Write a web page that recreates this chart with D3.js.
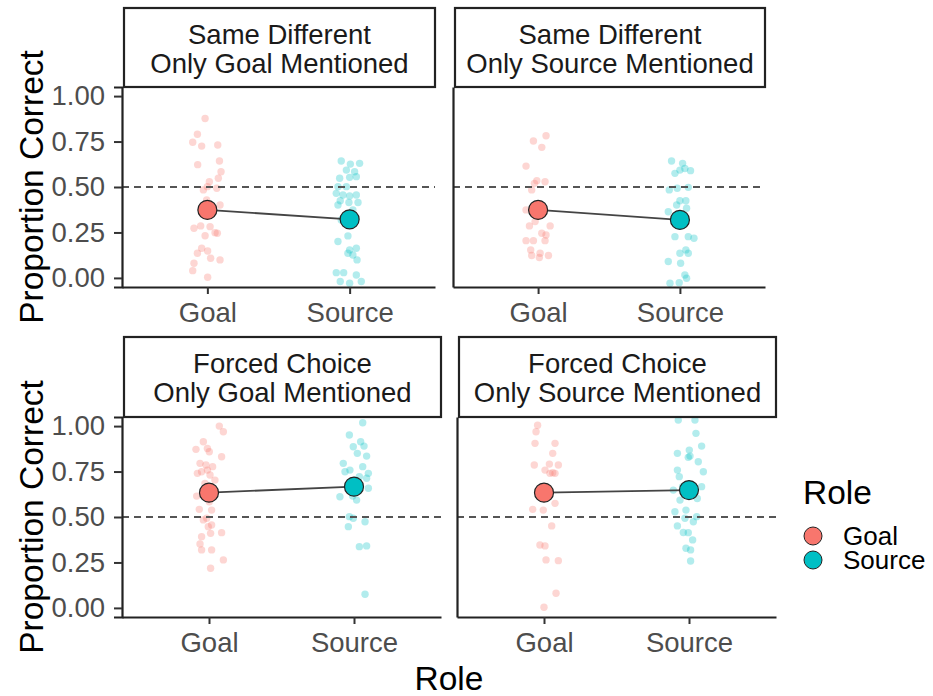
<!DOCTYPE html>
<html>
<head>
<meta charset="utf-8">
<script src="https://cdn.jsdelivr.net/npm/d3@7"></script>
<style>
  html, body { margin: 0; padding: 0; background: #fff; }
  svg { display: block; font-family: "Liberation Sans", Arial, sans-serif; }
</style>
</head>
<body>
<script>
// Roles on the x axis and their fill colours
const roles = ["Goal", "Source"];
const roleColors = ["#F8766D", "#00BFC4"];
const yTicks = [0, 0.25, 0.5, 0.75, 1];
const chanceLevel = 0.5;

// Facet strip titles (task, condition)
const stripTitles = [
  ["Same Different", "Only Goal Mentioned"],
  ["Same Different", "Only Source Mentioned"],
  ["Forced Choice", "Only Goal Mentioned"],
  ["Forced Choice", "Only Source Mentioned"]
];

// Mean proportion correct per panel: [Goal, Source]
const sdGoalMentionedMeans = [0.374, 0.322];
const sdSourceMentionedMeans = [0.374, 0.319];
const fcGoalMentionedMeans = [0.634, 0.667];
const fcSourceMentionedMeans = [0.634, 0.648];

// Per-participant scores: [horizontal jitter (category units), proportion correct]
const sdGoalMentionedGoal = [
  [-0.016,0.877],[-0.07,0.79],[-0.103,0.746],[-0.04,0.725],[0.073,0.731],[-0.068,0.623],
  [0.085,0.643],[0.096,0.584],[0.077,0.548],[0.014,0.529],[0,0.502],[-0.028,0.484],
  [0.066,0.493],[-0.005,0.429],[0.089,0.401],[0.007,0.374],[-0.094,0.273],[-0.047,0.286],
  [0.019,0.282],[-0.016,0.232],[0.054,0.249],[0.07,0.246],[-0.04,0.163],[-0.07,0.136],
  [0.002,0.148],[0.023,0.108],[0.089,0.099],[-0.094,0.081],[-0.103,0.04],[0.002,0.004]
];
const sdGoalMentionedSource = [
  [-0.059,0.643],[0.005,0.626],[0.07,0.63],[-0.023,0.593],[0.035,0.584],[-0.07,0.548],
  [0,0.553],[0.047,0.557],[-0.082,0.502],[-0.023,0.502],[-0.094,0.465],[-0.047,0.456],
  [0,0.451],[0.047,0.456],[-0.066,0.424],[-0.005,0.415],[0.059,0.415],[0.023,0.374],
  [-0.082,0.401],[-0.059,0.319],[-0.012,0.231],[-0.082,0.2],[0,0.154],[0.047,0.163],
  [0.023,0.126],[0.052,0.099],[-0.012,0.136],[-0.094,0.029],[-0.042,0.029],[0.047,0.016],
  [-0.066,-0.02],[0.082,-0.02],[0,-0.029]
];
const sdSourceMentionedGoal = [
  [0.056,0.782],[-0.033,0.753],[0.026,0.718],[-0.085,0.615],[-0.009,0.535],[0.049,0.529],
  [-0.026,0.52],[-0.045,0.484],[-0.085,0.374],[-0.061,0.286],[0.085,0.286],[0.026,0.246],
  [0.056,0.236],[-0.085,0.205],[-0.033,0.205],[0.049,0.205],[-0.052,0.154],[0.014,0.136],
  [-0.045,0.123],[0.009,0.112],[0.073,0.123],[-0.021,0.31]
];
const sdSourceMentionedSource = [
  [-0.059,0.643],[0.019,0.63],[0,0.593],[-0.035,0.575],[0.075,0.59],[0.035,0.602],
  [-0.075,0.484],[-0.019,0.493],[0.059,0.498],[0,0.424],[0.042,0.424],[-0.023,0.401],
  [0.047,0.383],[-0.082,0.364],[-0.035,0.227],[0.059,0.227],[0.099,0.218],[0.042,0.154],
  [0,0.136],[0.059,0.136],[-0.082,0.09],[0.005,0.081],[0.035,0.016],[0.047,-0.002],
  [-0.07,-0.029],[-0.005,-0.026]
];
const fcGoalMentionedGoal = [
  [0.071,1.0],[0.099,0.969],[-0.039,0.914],[-0.09,0.872],[-0.011,0.877],[0.002,0.859],
  [0.087,0.831],[-0.062,0.795],[-0.021,0.786],[0.025,0.777],[-0.011,0.758],[-0.08,0.74],
  [-0.051,0.749],[0.007,0.731],[0.041,0.703],[-0.028,0.685],[-0.085,0.615],[0.002,0.584],
  [-0.067,0.542],[0.018,0.538],[-0.016,0.493],[-0.039,0.484],[0.018,0.456],[-0.005,0.447],
  [0.011,0.41],[0.087,0.414],[-0.051,0.392],[-0.062,0.352],[-0.051,0.319],[0.018,0.319],
  [0.099,0.264],[0.011,0.218]
];
const fcGoalMentionedSource = [
  [0.06,1.018],[-0.032,0.951],[0.046,0.914],[-0.005,0.886],[0.069,0.89],[0.023,0.85],
  [0.087,0.835],[-0.074,0.795],[0.06,0.777],[-0.028,0.758],[-0.062,0.749],[0.099,0.74],
  [0.037,0.722],[0.087,0.713],[0.007,0.703],[0.099,0.658],[-0.097,0.611],[0.018,0.593],
  [-0.032,0.502],[-0.005,0.493],[0.076,0.474],[-0.039,0.447],[0.037,0.337],[0.087,0.341],
  [0.076,0.075],[-0.009,0.615]
];
const fcSourceMentionedGoal = [
  [-0.044,1.005],[-0.055,0.969],[-0.062,0.905],[0.076,0.905],[0.06,0.85],[-0.067,0.786],
  [0.037,0.791],[0.099,0.786],[0.007,0.758],[0.041,0.74],[0.06,0.744],[0.076,0.74],
  [0.076,0.575],[-0.078,0.542],[-0.005,0.538],[0.053,0.451],[-0.028,0.346],[0.007,0.341],
  [0.014,0.264],[0.099,0.26],[0.083,0.081],[0,0.004]
];
const fcSourceMentionedSource = [
  [-0.074,1.033],[0.041,1.033],[0.048,0.96],[0.087,0.89],[-0.08,0.85],[0.002,0.868],
  [-0.005,0.828],[0.007,0.835],[0.064,0.804],[0.099,0.749],[-0.08,0.758],[-0.067,0.722],
  [-0.044,0.667],[0.087,0.667],[0.057,0.602],[-0.062,0.593],[-0.021,0.538],[-0.097,0.529],
  [0.053,0.502],[0.03,0.474],[-0.028,0.493],[-0.08,0.451],[-0.039,0.415],[-0.005,0.414],
  [0.025,0.374],[-0.021,0.328],[0.011,0.319],[0.011,0.258],[-0.108,0.648]
];

const panelsData = [
  { means: sdGoalMentionedMeans, pts: [sdGoalMentionedGoal, sdGoalMentionedSource] },
  { means: sdSourceMentionedMeans, pts: [sdSourceMentionedGoal, sdSourceMentionedSource] },
  { means: fcGoalMentionedMeans, pts: [fcGoalMentionedGoal, fcGoalMentionedSource] },
  { means: fcSourceMentionedMeans, pts: [fcSourceMentionedGoal, fcSourceMentionedSource] }
];

// Panel boxes on the page; only the left column carries y tick labels
const panelBoxes = [
  { x0: 122, x1: 435, y0: 87, y1: 287, stripTop: 8, yLabels: true },
  { x0: 453, x1: 765, y0: 87, y1: 287, stripTop: 8, yLabels: false },
  { x0: 122, x1: 441, y0: 417, y1: 617, stripTop: 337, yLabels: true },
  { x0: 457, x1: 776, y0: 417, y1: 617, stripTop: 337, yLabels: false }
];

const W = 933, H = 696;
const smallFont = 27.5, titleFont = 33.5, legendFont = 26;

const svg = d3.select("body").append("svg")
  .attr("width", W).attr("height", H);

const defs = svg.append("defs");

panelsData.forEach((pd, i) => {
  const b = panelBoxes[i];
  const x = d3.scaleLinear().domain([0.4, 2.6]).range([b.x0, b.x1]);
  const y = d3.scaleLinear().domain([-0.05, 1.05]).range([b.y1, b.y0]);

  defs.append("clipPath").attr("id", "clip" + i)
    .append("rect").attr("x", b.x0).attr("y", b.y0)
    .attr("width", b.x1 - b.x0).attr("height", b.y1 - b.y0);

  const g = svg.append("g");
  const plot = g.append("g").attr("clip-path", `url(#clip${i})`);

  // jittered individual scores
  roles.forEach((r, ri) => {
    plot.selectAll(null).data(pd.pts[ri]).enter().append("circle")
      .attr("cx", d => x(ri + 1 + d[0]))
      .attr("cy", d => y(d[1]))
      .attr("r", 3.7)
      .attr("fill", roleColors[ri])
      .attr("fill-opacity", 0.3);
  });

  // chance line
  plot.append("line")
    .attr("x1", b.x0).attr("x2", b.x1)
    .attr("y1", y(chanceLevel)).attr("y2", y(chanceLevel))
    .attr("stroke", "#555").attr("stroke-width", 2)
    .attr("stroke-dasharray", "7,5");

  // line joining the means
  plot.append("path")
    .datum(pd.means)
    .attr("d", d3.line().x((d, k) => x(k + 1)).y(d => y(d)))
    .attr("fill", "none").attr("stroke", "#444").attr("stroke-width", 1.8);

  // mean points
  plot.selectAll(null).data(pd.means).enter().append("circle")
    .attr("cx", (d, k) => x(k + 1))
    .attr("cy", d => y(d))
    .attr("r", 9.5)
    .attr("fill", (d, k) => roleColors[k])
    .attr("stroke", "#222").attr("stroke-width", 1.2);

  // y axis (ticks and labels only on the left column)
  const yAxis = d3.axisLeft(y).tickSizeOuter(0);
  if (b.yLabels) {
    yAxis.tickValues(yTicks).tickFormat(d3.format(".2f")).tickSize(8).tickPadding(9);
  } else {
    yAxis.tickValues([]);
  }
  const ya = g.append("g").attr("transform", `translate(${b.x0},0)`).call(yAxis);
  // x axis
  const xa = g.append("g").attr("transform", `translate(0,${b.y1})`)
    .call(d3.axisBottom(x).tickValues([1, 2]).tickFormat(d => roles[d - 1])
      .tickSize(7).tickSizeOuter(0).tickPadding(8));
  [ya, xa].forEach(a => {
    a.select(".domain").attr("stroke", "#222").attr("stroke-width", 2.2);
    a.selectAll(".tick line").attr("stroke", "#333").attr("stroke-width", 2);
    a.selectAll(".tick text").attr("fill", "#4D4D4D")
      .style("font-size", smallFont + "px")
      .style("font-family", "'Liberation Sans', Arial, sans-serif");
  });

  // facet strip
  g.append("rect")
    .attr("x", b.x0 + 2).attr("y", b.stripTop)
    .attr("width", b.x1 - b.x0 - 2).attr("height", b.y0 - b.stripTop)
    .attr("fill", "#fff").attr("stroke", "#222").attr("stroke-width", 2.2);
  stripTitles[i].forEach((t, li) => {
    g.append("text")
      .attr("x", (b.x0 + b.x1) / 2 + 1)
      .attr("y", b.stripTop + 26 + li * 29)
      .attr("text-anchor", "middle")
      .attr("dominant-baseline", "central")
      .attr("fill", "#1A1A1A")
      .style("font-size", smallFont + "px")
      .text(t);
  });
});

// y-axis titles, one per row
[[87, 287], [417, 617]].forEach(([t, bt]) => {
  svg.append("text")
    .attr("transform", `translate(31,${(t + bt) / 2}) rotate(-90)`)
    .attr("text-anchor", "middle")
    .attr("dominant-baseline", "central")
    .attr("fill", "#000")
    .style("font-size", titleFont + "px")
    .text("Proportion Correct");
});

// x-axis title
svg.append("text")
  .attr("x", (122 + 776) / 2).attr("y", 678)
  .attr("text-anchor", "middle").attr("dominant-baseline", "central")
  .attr("fill", "#000")
  .style("font-size", titleFont + "px")
  .text("Role");

// legend
const leg = svg.append("g");
leg.append("text")
  .attr("x", 803).attr("y", 492)
  .attr("dominant-baseline", "central")
  .attr("fill", "#000")
  .style("font-size", titleFont + "px")
  .text("Role");
roles.forEach((r, ri) => {
  const cy = 536 + ri * 24;
  leg.append("circle")
    .attr("cx", 813).attr("cy", cy).attr("r", 9)
    .attr("fill", roleColors[ri]).attr("stroke", "#222").attr("stroke-width", 1);
  leg.append("text")
    .attr("x", 843).attr("y", cy)
    .attr("dominant-baseline", "central")
    .attr("fill", "#000")
    .style("font-size", legendFont + "px")
    .text(r);
});
</script>
</body>
</html>
